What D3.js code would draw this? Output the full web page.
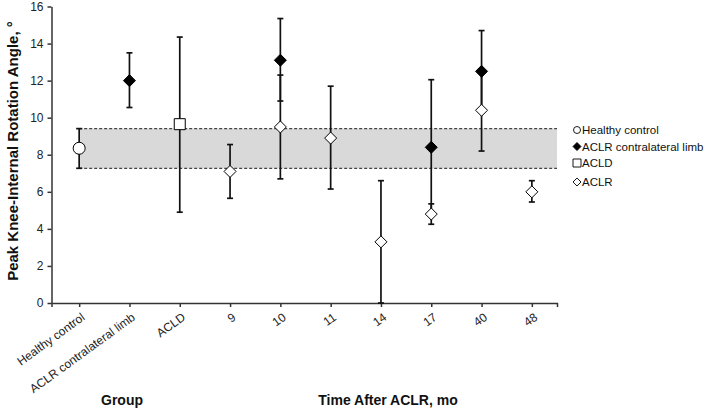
<!DOCTYPE html>
<meta charset="utf-8">
<style>
body { margin: 0; background: #fff; }
svg { font-family: Arial, "Liberation Sans", sans-serif; }
.axis path, .axis line { stroke: #333; stroke-width: 1.5px; }
.axis text { fill: #222; font-size: 12px; }
.err { stroke: #111; stroke-width: 1.7px; }
.title { font-weight: bold; font-size: 14px; fill: #111; }
.legend text { font-size: 11.5px; fill: #111; }
</style>
<svg width="709" height="409"></svg>
<script src="https://cdnjs.cloudflare.com/ajax/libs/d3/7.8.5/d3.min.js"></script>
<script>

var categories = ["Healthy control", "ACLR contralateral limb", "ACLD", "9", "10", "11", "14", "17", "40", "48"];
var yTicks = [0, 2, 4, 6, 8, 10, 12, 14, 16];

// reference band (healthy control range)
var bandLow = 7.27, bandHigh = 9.41;

// series: position in category list (1-based), mean, lower and upper end of error bar
var healthyPos = [1],
    healthyMean = [8.35],
    healthyLo = [7.27],
    healthyHi = [9.41];

var contraPos = [2, 5, 8, 9],
    contraMean = [12.0, 13.1, 8.4, 12.5],
    contraLo = [10.55, 10.9, 4.8, 10.4],
    contraHi = [13.5, 15.35, 12.05, 14.7];

var acldPos = [3],
    acldMean = [9.65],
    acldLo = [4.9],
    acldHi = [14.35];

var aclrPos = [4, 5, 6, 7, 8, 9, 10],
    aclrMean = [7.1, 9.5, 8.9, 3.3, 4.8, 10.4, 6.0],
    aclrLo = [5.65, 6.7, 6.15, 0, 4.25, 8.2, 5.45],
    aclrHi = [8.55, 12.3, 11.7, 6.6, 5.35, 12.6, 6.6];

var legendNames = ["Healthy control", "ACLR contralateral limb", "ACLD", "ACLR"];

var svg = d3.select("svg");

var x = d3.scaleLinear().domain([0.45, 10.5]).range([51.5, 557]);
var y = d3.scaleLinear().domain([0, 16]).range([303, 6.5]);

function pack(pos, mean, lo, hi) {
  return pos.map(function(p, i) { return {p: p, m: mean[i], lo: lo[i], hi: hi[i]}; });
}

var series = [
  {name: legendNames[0], shape: "circle", fill: "#fff", data: pack(healthyPos, healthyMean, healthyLo, healthyHi)},
  {name: legendNames[1], shape: "diamond", fill: "#000", data: pack(contraPos, contraMean, contraLo, contraHi)},
  {name: legendNames[2], shape: "square", fill: "#fff", data: pack(acldPos, acldMean, acldLo, acldHi)},
  {name: legendNames[3], shape: "diamond", fill: "#fff", data: pack(aclrPos, aclrMean, aclrLo, aclrHi)}
];

function shapePath(shape, s) {
  if (shape === "circle") return "M" + (-s) + ",0A" + s + "," + s + " 0 1,0 " + s + ",0A" + s + "," + s + " 0 1,0 " + (-s) + ",0Z";
  if (shape === "square") return "M" + (-s) + "," + (-s) + "H" + s + "V" + s + "H" + (-s) + "Z";
  return "M0," + (-s) + "L" + s + ",0L0," + s + "L" + (-s) + ",0Z";
}
var markerSize = {circle: 6, square: 5.5, diamond: 6};

// grey band
svg.append("rect")
    .attr("x", x(1))
    .attr("y", y(bandHigh))
    .attr("width", x(10.5) - x(1))
    .attr("height", y(bandLow) - y(bandHigh))
    .attr("fill", "#d9d9d9");
[bandLow, bandHigh].forEach(function(v) {
  svg.append("line")
      .attr("x1", x(1)).attr("x2", x(10.5))
      .attr("y1", y(v)).attr("y2", y(v))
      .attr("stroke", "#444")
      .attr("stroke-width", 1.2)
      .attr("stroke-dasharray", "3,2");
});

// axes
svg.append("g")
    .attr("class", "axis")
    .attr("transform", "translate(" + x(0.45) + ",0)")
    .call(d3.axisLeft(y).tickValues(yTicks).tickSize(4).tickSizeOuter(0).tickPadding(4));

var xAxis = svg.append("g")
    .attr("class", "axis")
    .attr("transform", "translate(0," + y(0) + ")")
    .call(d3.axisBottom(x).tickValues(d3.range(1, 11)).tickSize(4).tickSizeOuter(4)
      .tickFormat(function(d) { return categories[d - 1]; }));
xAxis.selectAll(".tick text")
    .attr("text-anchor", "end")
    .attr("dy", 0)
    .attr("y", 0)
    .attr("transform", "translate(6,16) rotate(-36)");

// error bars
var capW = 3;
series.forEach(function(s) {
  var g = svg.append("g");
  s.data.forEach(function(d) {
    g.append("line").attr("class", "err")
        .attr("x1", x(d.p)).attr("x2", x(d.p)).attr("y1", y(d.lo)).attr("y2", y(d.hi));
    [d.lo, d.hi].forEach(function(v) {
      g.append("line").attr("class", "err")
          .attr("x1", x(d.p) - capW).attr("x2", x(d.p) + capW).attr("y1", y(v)).attr("y2", y(v));
    });
  });
});

// markers
series.forEach(function(s) {
  svg.append("g").selectAll("path")
    .data(s.data)
    .enter().append("path")
      .attr("transform", function(d) { return "translate(" + x(d.p) + "," + y(d.m) + ")"; })
      .attr("d", shapePath(s.shape, markerSize[s.shape]))
      .attr("fill", s.fill)
      .attr("stroke", "#000")
      .attr("stroke-width", 1);
});

// titles
svg.append("text")
    .attr("class", "title")
    .style("font-size", "15px")
    .attr("transform", "translate(18," + y(8.2) + ") rotate(-90)")
    .attr("text-anchor", "middle")
    .text("Peak Knee-Internal Rotation Angle, °");
svg.append("text")
    .attr("class", "title")
    .attr("x", 122).attr("y", 405)
    .attr("text-anchor", "middle")
    .text("Group");
svg.append("text")
    .attr("class", "title")
    .attr("x", 388).attr("y", 405)
    .attr("text-anchor", "middle")
    .text("Time After ACLR, mo");

// legend
var legendY = [130, 146.5, 163, 182];
var legend = svg.append("g").attr("class", "legend");
series.forEach(function(s, i) {
  var row = legend.append("g").attr("transform", "translate(577," + legendY[i] + ")");
  row.append("path")
      .attr("d", shapePath(s.shape, s.shape === "circle" ? 3.5 : 4))
      .attr("fill", s.fill)
      .attr("stroke", "#000")
      .attr("stroke-width", 0.9);
  row.append("text")
      .attr("x", 5)
      .attr("dy", "0.36em")
      .text(s.name);
});
</script>
